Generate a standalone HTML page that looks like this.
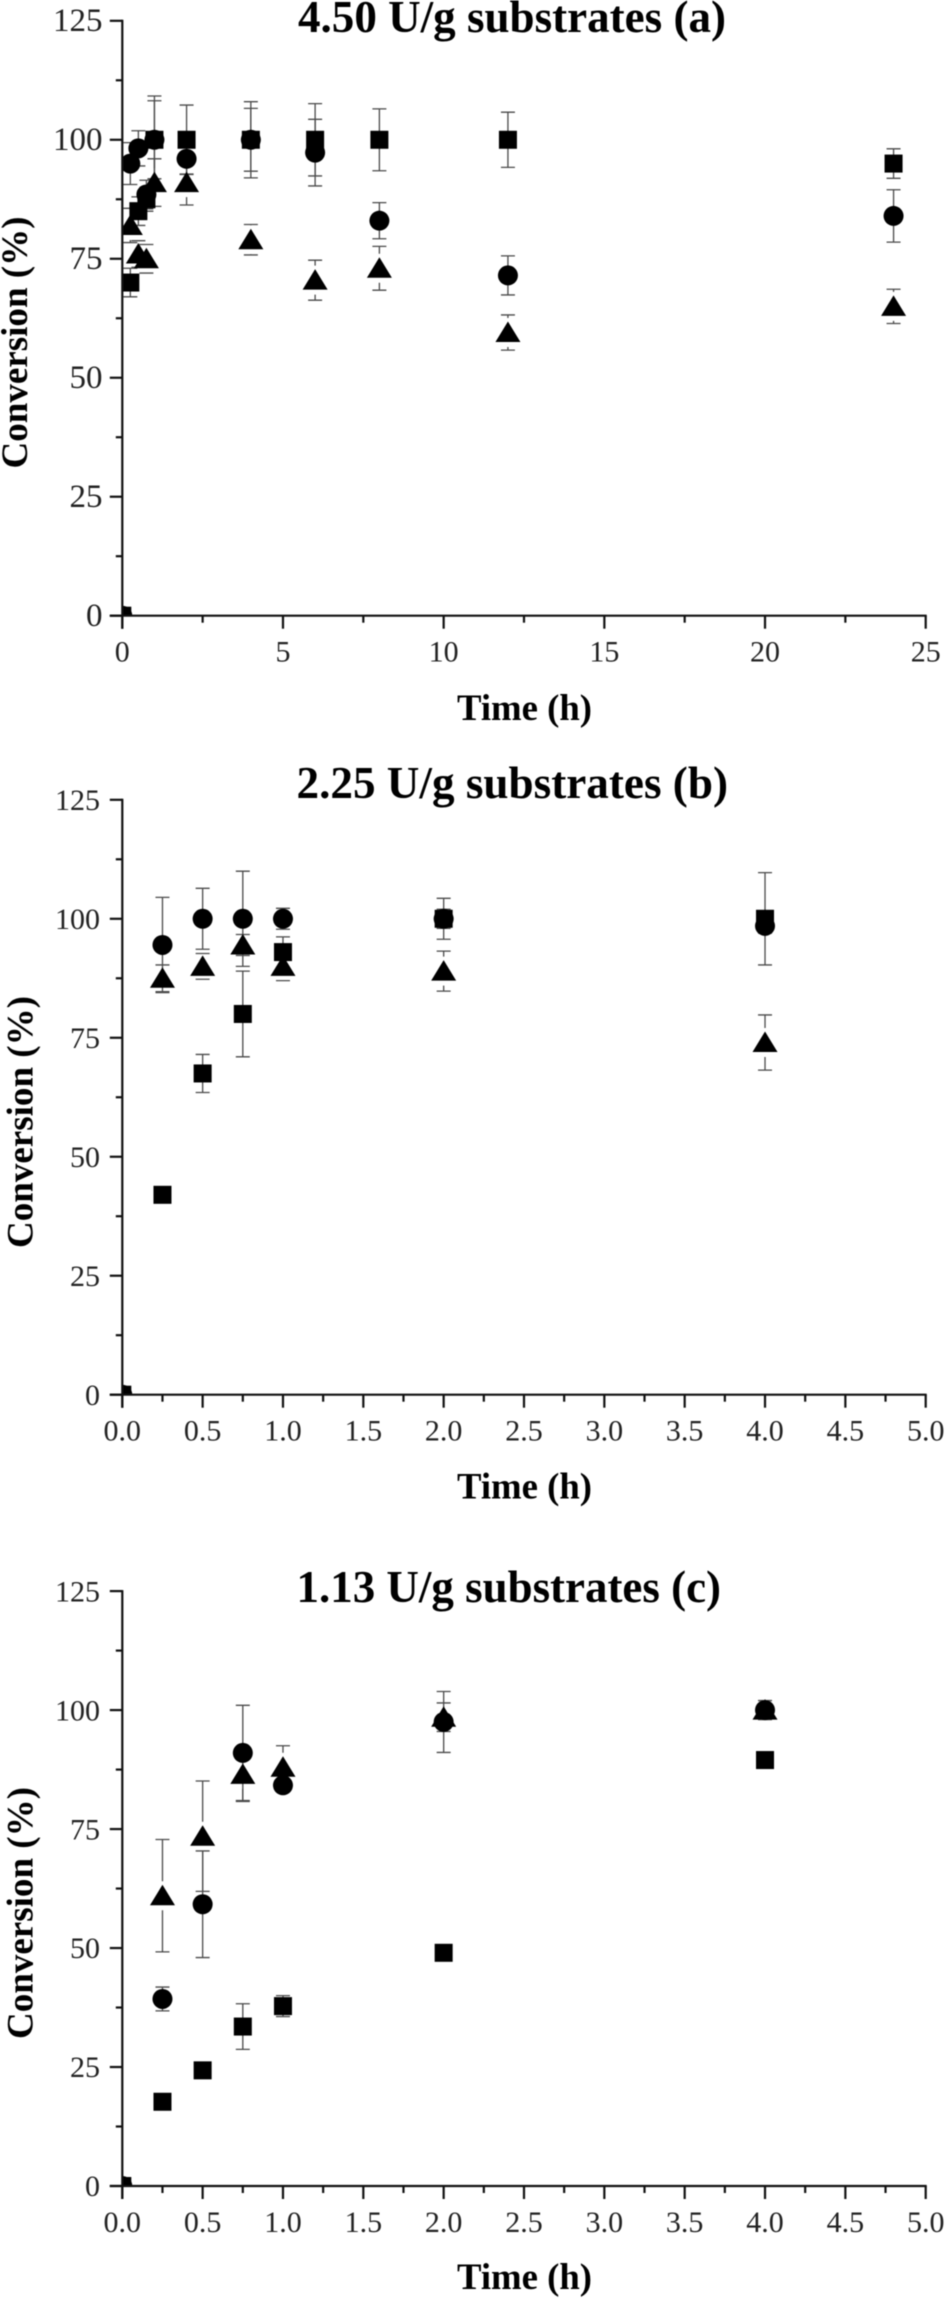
<!DOCTYPE html>
<html lang="en">
<head>
<meta charset="utf-8">
<title>Conversion vs time</title>
<style>
  html, body { margin: 0; padding: 0; background: #fff; }
  body { width: 945px; height: 2299px; overflow: hidden; }
  svg { display: block; filter: blur(0.6px); }
  text { font-family: "Liberation Serif", serif; fill: #111; }
  .tick-label { font-size: 30px; fill: #222; }
  .tick-label-tall { font-size: 33px; fill: #222; }
  .title { font-size: 45px; font-weight: bold; fill: #000; }
  .axis-title { font-size: 37px; font-weight: bold; fill: #000; }
</style>
</head>
<body>
<svg id="chart" xmlns="http://www.w3.org/2000/svg" width="945" height="2299" viewBox="0 0 945 2299">
  <rect x="0" y="0" width="945" height="2299" fill="#fff"/>
</svg>
<script>
// ---------- Panel (a): 4.50 U/g ----------
const timesA = [0, 0.25, 0.5, 0.75, 1, 2, 4, 6, 8, 12, 24];
const squaresA = [0, 70, 85, 87.5, 100, 100, 100, 100, 100, 100, 95];
const squareErrA = [0, 3, 3, 2.5, 8.2, 7.3, 6.6, 7.6, 6.5, 5.8, 3.1];
const circlesA = [0, 95, 98.2, 88.5, 100, 96, 100, 97.3, 83, 71.5, 84];
const circleErrA = [0, 4.4, 3.7, 3, 9.2, 3.2, 8, 7, 3.8, 4.1, 5.5];
const trianglesA = [0, 82, 76, 75, 91, 91, 79, 70.5, 73, 59.5, 65];
const triangleErrA = [0, 3.6, 2.8, 3, 5, 4.7, 3.2, 4.2, 4.6, 3.7, 3.6];
const xTicksA = ["0", "5", "10", "15", "20", "25"];

// ---------- Panel (b): 2.25 U/g ----------
const timesB = [0, 0.25, 0.5, 0.75, 1, 2, 4];
const squaresB = [0, 42, 67.5, 80, 93, 100, 100];
const squareErrB = [0, 0.5, 4, 9, 3.2, 4.3, 9.7];
const circlesB = [0, 94.5, 100, 100, 100, 100, 98.5];
const circleErrB = [0, 10, 6.4, 10, 2.2, 2, 1.5];
const trianglesB = [0, 87.5, 90, 94.5, 90, 89, 74];
const triangleErrB = [0, 2.8, 2.7, 2.2, 3, 4.2, 5.8];

// ---------- Panel (c): 1.13 U/g ----------
const timesC = [0, 0.25, 0.5, 0.75, 1, 2, 4];
const squaresC = [0, 17.7, 24.3, 33.5, 37.8, 49, 89.5];
const squareErrC = [0, 0.7, 0.8, 4.8, 2.2, 0.8, 0.8];
const circlesC = [0, 39.3, 59.2, 91, 84.2, 97.5, 100];
const circleErrC = [0, 2.5, 11.2, 10, 1, 6.4, 1];
const trianglesC = [0, 61, 73.5, 86.5, 88, 98.5, 100];
const triangleErrC = [0, 11.8, 11.6, 5.7, 4.5, 3, 2];

// ---------- Shared axis labels ----------
const xTicksBC = ["0.0", "0.5", "1.0", "1.5", "2.0", "2.5", "3.0", "3.5", "4.0", "4.5", "5.0"];
const yTicks = ["0", "25", "50", "75", "100", "125"];
const titleA = "4.50 U/g substrates (a)";
const titleB = "2.25 U/g substrates (b)";
const titleC = "1.13 U/g substrates (c)";

const NS = "http://www.w3.org/2000/svg";
const root = document.getElementById("chart");

function node(parent, tag, props) {
  const el = document.createElementNS(NS, tag);
  for (const k in props) el.setAttribute(k, props[k]);
  parent.appendChild(el);
  return el;
}

function drawSeries(g, cfg, times, values, errors, shape, xs, ys) {
  const gaps = { square: 8, circle: 9, triangle: 14.5 };
  const gap = gaps[shape];
  const errGroup = node(g, "g", { stroke: "#4a4a4a", "stroke-width": 1.3, fill: "none" });
  
  
  times.forEach(function (t, i) {
    if (!errors[i]) return;
    const cx = xs(t), hi = ys(values[i] + errors[i]), lo = ys(values[i] - errors[i]), cy = ys(values[i]);
    if (cy - hi > gap) {
      const up = node(errGroup, "line", { x1: cx, x2: cx, y1: hi, y2: cy - gap });
      
      
    }
    if (lo - cy > gap) {
      const down = node(errGroup, "line", { x1: cx, x2: cx, y1: cy + gap, y2: lo });
      
      
    }
    const capTop = node(errGroup, "line", { x1: cx - 7, x2: cx + 7, y1: hi, y2: hi });
    
    
    const capBottom = node(errGroup, "line", { x1: cx - 7, x2: cx + 7, y1: lo, y2: lo });
    
    
  });
}

function drawMarkers(g, times, values, shape, xs, ys) {
  const mg = node(g, "g", { fill: "#000" });
  
  
  times.forEach(function (t, i) {
    const cx = xs(t), cy = ys(values[i]);
    let m;
    if (shape === "square") {
      m = node(mg, "rect", { x: cx - 9, y: cy - 9, width: 18, height: 18 });
    } else if (shape === "circle") {
      m = node(mg, "circle", { cx: cx, cy: cy, r: 10 });
    } else {
      m = node(mg, "polygon", { points: (cx - 12.5) + "," + (cy + 9.5) + " " + (cx + 12.5) + "," + (cy + 9.5) + " " + cx + "," + (cy - 11) });
    }
    
    
  });
}

function drawPanel(cfg) {
  const g = node(root, "g", {});
  
  

  const left = 122.3, right = 925.7, bottom = cfg.y0, top = cfg.y0 - 594.9;
  const xs = function (v) { return left + (v / cfg.xMax) * (right - left); };
  const ys = function (v) { return bottom - (v / 125) * (bottom - top); };

  const clipId = "clip-" + cfg.name;
  const clip = node(node(g, "defs", {}), "clipPath", { id: clipId });
  node(clip, "rect", { x: left, y: top - 30, width: right - left + 20, height: bottom - top + 30 });

  const plot = node(g, "g", { "clip-path": "url(#" + clipId + ")" });
  
  
  drawSeries(plot, cfg, cfg.times, cfg.squares, cfg.squareErr, "square", xs, ys);
  drawSeries(plot, cfg, cfg.times, cfg.circles, cfg.circleErr, "circle", xs, ys);
  drawSeries(plot, cfg, cfg.times, cfg.triangles, cfg.triangleErr, "triangle", xs, ys);
  drawMarkers(plot, cfg.times, cfg.squares, "square", xs, ys);
  drawMarkers(plot, cfg.times, cfg.circles, "circle", xs, ys);
  drawMarkers(plot, cfg.times, cfg.triangles, "triangle", xs, ys);

  const axes = node(g, "g", { stroke: "#111", "stroke-width": 2.2, fill: "none" });
  
  

  const yAxis = node(axes, "line", { x1: left, x2: left, y1: top - 1, y2: bottom + 13 });
  
  
  const xAxis = node(axes, "line", { x1: left - 12.5, x2: right + 1, y1: bottom, y2: bottom });
  
  

  // y ticks
  yTicks.forEach(function (label, i) {
    const v = Number(label), py = ys(v);
    const tick = node(axes, "line", { x1: left - 12.5, x2: left, y1: py, y2: py });
    
    
    if (i < yTicks.length - 1) {
      const my = ys(v + 12.5);
      const minor = node(axes, "line", { x1: left - 6.5, x2: left, y1: my, y2: my });
      
      
    }
    const attrs = { class: cfg.yLabelClass, x: cfg.yLabelRight, y: py + 10.2, "text-anchor": "end" };
    const t = node(g, "text", attrs);
    t.textContent = label;
    
    
  });

  // x ticks
  cfg.xTicks.forEach(function (label, i) {
    const v = Number(label), px = xs(v);
    const tick = node(axes, "line", { x1: px, x2: px, y1: bottom, y2: bottom + 13 });
    
    
    if (i < cfg.xTicks.length - 1) {
      const step = Number(cfg.xTicks[1]) - Number(cfg.xTicks[0]);
      const mx = xs(v + step / 2);
      const minor = node(axes, "line", { x1: mx, x2: mx, y1: bottom, y2: bottom + 7 });
      
      
    }
    const t = node(g, "text", { class: "tick-label", x: px, y: bottom + 46, "text-anchor": "middle" });
    t.textContent = label;
    
    
  });

  const title = node(g, "text", { class: "title", x: cfg.titleX, y: cfg.titleY, textLength: cfg.titleW, lengthAdjust: "spacingAndGlyphs" });
  title.textContent = cfg.title;
  
  

  const xTitle = node(g, "text", { class: "axis-title", x: 457, y: cfg.xTitleY, textLength: 135, lengthAdjust: "spacingAndGlyphs" });
  xTitle.textContent = "Time (h)";
  
  

  const yTitle = node(g, "text", { class: "axis-title", transform: "translate(" + cfg.yTitleX + "," + cfg.yTitleBottom + ") rotate(-90)", x: 0, y: 0, textLength: 252, lengthAdjust: "spacingAndGlyphs" });
  yTitle.textContent = "Conversion (%)";
  
  
}

drawPanel({
  name: "panel-a", y0: 615.7, xMax: 25, xTicks: xTicksA, title: titleA,
  titleX: 298, titleY: 32, titleW: 428, xTitleY: 720, yTitleX: 27, yTitleBottom: 468.5,
  yLabelRight: 102.5, yLabelClass: "tick-label-tall",
  times: timesA, squares: squaresA, squareErr: squareErrA, circles: circlesA, circleErr: circleErrA, triangles: trianglesA, triangleErr: triangleErrA
});
drawPanel({
  name: "panel-b", y0: 1394.7, xMax: 5, xTicks: xTicksBC, title: titleB,
  titleX: 296.5, titleY: 798, titleW: 431.5, xTitleY: 1498.6, yTitleX: 32.5, yTitleBottom: 1248,
  yLabelRight: 100, yLabelClass: "tick-label",
  times: timesB, squares: squaresB, squareErr: squareErrB, circles: circlesB, circleErr: circleErrB, triangles: trianglesB, triangleErr: triangleErrB
});
drawPanel({
  name: "panel-c", y0: 2186, xMax: 5, xTicks: xTicksBC, title: titleC,
  titleX: 296.5, titleY: 1602, titleW: 424.5, xTitleY: 2289, yTitleX: 32.5, yTitleBottom: 2039,
  yLabelRight: 100, yLabelClass: "tick-label",
  times: timesC, squares: squaresC, squareErr: squareErrC, circles: circlesC, circleErr: circleErrC, triangles: trianglesC, triangleErr: triangleErrC
});
</script>
</body>
</html>
